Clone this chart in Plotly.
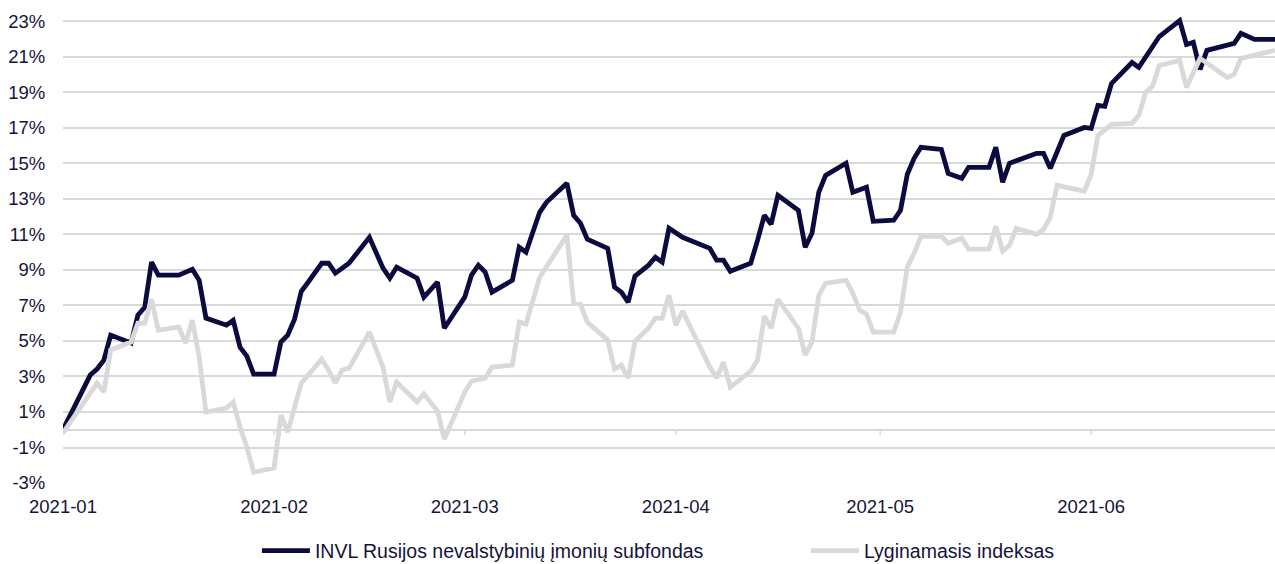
import plotly.graph_objects as go

# ---- data ----
fund_name = "INVL Rusijos nevalstybinių įmonių subfondas"
index_name = "Lyginamasis indeksas"

fund_dates = [
    "2021-01-01", "2021-01-05", "2021-01-06", "2021-01-07", "2021-01-08", "2021-01-11", "2021-01-12",
    "2021-01-13", "2021-01-14", "2021-01-15", "2021-01-18", "2021-01-20", "2021-01-21", "2021-01-22",
    "2021-01-25", "2021-01-26", "2021-01-27", "2021-01-28", "2021-01-29",
    "2021-02-01", "2021-02-02", "2021-02-03", "2021-02-04", "2021-02-05", "2021-02-06", "2021-02-08",
    "2021-02-09", "2021-02-10", "2021-02-12", "2021-02-15", "2021-02-17", "2021-02-18", "2021-02-19",
    "2021-02-22", "2021-02-23", "2021-02-25", "2021-02-26",
    "2021-03-01", "2021-03-02", "2021-03-03", "2021-03-04", "2021-03-05", "2021-03-08", "2021-03-09",
    "2021-03-10", "2021-03-12", "2021-03-13", "2021-03-16", "2021-03-17", "2021-03-18", "2021-03-19",
    "2021-03-22", "2021-03-23", "2021-03-24", "2021-03-25", "2021-03-26", "2021-03-28", "2021-03-29",
    "2021-03-30", "2021-03-31",
    "2021-04-02", "2021-04-03", "2021-04-06", "2021-04-07", "2021-04-08", "2021-04-09", "2021-04-12",
    "2021-04-13", "2021-04-14", "2021-04-15", "2021-04-16", "2021-04-19", "2021-04-20", "2021-04-21",
    "2021-04-22", "2021-04-23", "2021-04-26", "2021-04-27", "2021-04-29", "2021-04-30",
    "2021-05-03", "2021-05-04", "2021-05-05", "2021-05-06", "2021-05-07", "2021-05-10", "2021-05-11",
    "2021-05-13", "2021-05-14", "2021-05-17", "2021-05-18", "2021-05-19", "2021-05-20", "2021-05-24",
    "2021-05-25", "2021-05-26", "2021-05-27", "2021-05-28", "2021-05-31",
    "2021-06-01", "2021-06-02", "2021-06-03", "2021-06-04", "2021-06-07", "2021-06-08", "2021-06-11",
    "2021-06-14", "2021-06-15", "2021-06-16", "2021-06-17", "2021-06-18", "2021-06-22", "2021-06-23",
    "2021-06-25", "2021-06-28",
]
fund_values = [
    0.0, 3.08, 3.42, 3.92, 5.33, 4.88, 6.46, 6.90, 9.44, 8.71,
    8.71, 9.04, 8.42, 6.29, 5.89, 6.17, 4.65, 4.15, 3.13, 3.13,
    4.94, 5.33, 6.23, 7.80, 8.31, 9.38, 9.38, 8.82, 9.38, 10.84,
    9.10, 8.54, 9.16, 8.54, 7.47, 8.31, 5.72, 7.47, 8.71, 9.27,
    8.88, 7.75, 8.42, 10.28, 10.00, 12.25, 12.81, 13.88, 12.08, 11.63,
    10.73, 10.22, 8.03, 7.75, 7.19, 8.65, 9.27, 9.72, 9.44, 11.35,
    10.84, 10.67, 10.22, 9.55, 9.55, 8.93, 9.38, 10.67, 12.08, 11.58,
    13.21, 12.36, 10.28, 11.07, 13.38, 14.33, 15.01, 13.38, 13.66, 11.74,
    11.80, 12.36, 14.39, 15.29, 15.91, 15.79, 14.44, 14.16, 14.78, 14.78,
    15.91, 13.94, 15.01, 15.57, 15.57, 14.73, 15.63, 16.58, 17.03, 16.98,
    18.27, 18.22, 19.51, 20.69, 20.41, 22.15, 23.05, 21.70, 21.82, 20.30,
    21.37, 21.76, 22.33, 21.99, 21.99,
]

index_dates = [
    "2021-01-01", "2021-01-05", "2021-01-06", "2021-01-07", "2021-01-08", "2021-01-11", "2021-01-12",
    "2021-01-13", "2021-01-14", "2021-01-15", "2021-01-18", "2021-01-19", "2021-01-20", "2021-01-21",
    "2021-01-22", "2021-01-25", "2021-01-26", "2021-01-27", "2021-01-28", "2021-01-29",
    "2021-02-01", "2021-02-02", "2021-02-03", "2021-02-05", "2021-02-08", "2021-02-09", "2021-02-10",
    "2021-02-11", "2021-02-12", "2021-02-15", "2021-02-17", "2021-02-18", "2021-02-19", "2021-02-22",
    "2021-02-23", "2021-02-25", "2021-02-26",
    "2021-03-01", "2021-03-02", "2021-03-04", "2021-03-05", "2021-03-08", "2021-03-09", "2021-03-10",
    "2021-03-12", "2021-03-16", "2021-03-17", "2021-03-18", "2021-03-19", "2021-03-22", "2021-03-23",
    "2021-03-24", "2021-03-25", "2021-03-26", "2021-03-28", "2021-03-29", "2021-03-30", "2021-03-31",
    "2021-04-01", "2021-04-02", "2021-04-06", "2021-04-07", "2021-04-08", "2021-04-09", "2021-04-12",
    "2021-04-13", "2021-04-14", "2021-04-15", "2021-04-16", "2021-04-19", "2021-04-20", "2021-04-21",
    "2021-04-22", "2021-04-23", "2021-04-26", "2021-04-27", "2021-04-28", "2021-04-29", "2021-04-30",
    "2021-05-03", "2021-05-04", "2021-05-05", "2021-05-06", "2021-05-07", "2021-05-10", "2021-05-11",
    "2021-05-13", "2021-05-14", "2021-05-17", "2021-05-18", "2021-05-19", "2021-05-20", "2021-05-21",
    "2021-05-24", "2021-05-25", "2021-05-26", "2021-05-27", "2021-05-31",
    "2021-06-01", "2021-06-02", "2021-06-03", "2021-06-04", "2021-06-07", "2021-06-08", "2021-06-09",
    "2021-06-10", "2021-06-11", "2021-06-14", "2021-06-15", "2021-06-17", "2021-06-21", "2021-06-22",
    "2021-06-23", "2021-06-28",
]
index_values = [
    -0.19, 2.12, 2.63, 2.12, 4.49, 4.94, 6.00, 6.00, 7.35, 5.61,
    5.78, 4.88, 6.17, 4.09, 1.00, 1.22, 1.56, 0.15, -0.98, -2.39,
    -2.16, 0.83, -0.13, 2.63, 3.98, 3.36, 2.63, 3.36, 3.47, 5.50,
    3.53, 1.56, 2.68, 1.56, 2.01, 1.05, -0.52, 2.12, 2.74, 2.91,
    3.53, 3.64, 6.06, 5.95, 8.59, 10.95, 7.13, 7.07, 6.06, 5.05,
    3.42, 3.64, 2.91, 4.99, 5.72, 6.29, 6.29, 7.58, 5.89, 6.68,
    3.53, 2.91, 3.81, 2.40, 3.30, 3.92, 6.40, 5.72, 7.35, 5.72,
    4.20, 4.94, 7.58, 8.26, 8.42, 7.69, 6.74, 6.51, 5.50, 5.50,
    6.62, 9.16, 9.94, 10.90, 10.90, 10.51, 10.79, 10.17, 10.17, 11.46,
    10.06, 10.39, 11.35, 11.01, 11.29, 11.97, 13.77, 13.44, 14.39, 16.58,
    16.86, 17.20, 17.26, 17.71, 19.00, 19.34, 20.52, 20.80, 19.28, 20.92,
    19.84, 20.02, 20.92, 21.37,
]

month_ticks = ["2021-01-01", "2021-02-01", "2021-03-01", "2021-04-01", "2021-05-01", "2021-06-01"]
month_labels = ["2021-01", "2021-02", "2021-03", "2021-04", "2021-05", "2021-06"]
y_ticks = [-3, -1, 1, 3, 5, 7, 9, 11, 13, 15, 17, 19, 21, 23]
y_labels = [f"{v}%" for v in y_ticks]

# ---- styles ----
FUND_COLOR = "#0b0b3f"
INDEX_COLOR = "#d9d9d9"
GRID_COLOR = "#d9d9d9"
TEXT_COLOR = "#14143a"
FONT = "Liberation Sans, Arial, sans-serif"
FS = 18.5
FS_LEG = 19.5

fig = go.Figure()
fig.add_trace(go.Scatter(
    x=fund_dates, y=fund_values, mode="lines", name=fund_name,
    line=dict(color=FUND_COLOR, width=4.8), legend="legend",
))
fig.add_trace(go.Scatter(
    x=index_dates, y=index_values, mode="lines", name=index_name,
    line=dict(color=INDEX_COLOR, width=4.8), legend="legend2",
))

# small tick marks on the zero line at each month
for m in month_ticks:
    fig.add_shape(type="line", xref="x", yref="y", x0=m, x1=m, y0=0, y1=-0.3,
                  line=dict(color=GRID_COLOR, width=1.5), layer="below")

legend_common = dict(
    orientation="h", yanchor="middle", y=-0.146, xanchor="left",
    font=dict(family=FONT, size=FS_LEG, color=TEXT_COLOR),
    bgcolor="rgba(0,0,0,0)", itemwidth=48,
)

fig.update_layout(
    width=1275, height=564,
    margin=dict(l=63, r=0, t=16.5, b=81, autoexpand=False),
    paper_bgcolor="white", plot_bgcolor="white",
    font=dict(family=FONT, size=FS, color=TEXT_COLOR),
    showlegend=True,
    legend=dict(x=0.160, **legend_common),
    legend2=dict(x=0.613, **legend_common),
)
fig.update_xaxes(
    type="date", range=["2021-01-01", "2021-06-28"],
    tickvals=month_ticks, ticktext=month_labels,
    showgrid=False, zeroline=False, showline=False, automargin=False,
    ticks="outside", ticklen=7, tickcolor="rgba(0,0,0,0)",
)
fig.update_yaxes(
    range=[-3, 23.25], tickvals=y_ticks, ticktext=y_labels,
    showgrid=True, gridcolor=GRID_COLOR, gridwidth=1.5,
    zeroline=True, zerolinecolor=GRID_COLOR, zerolinewidth=1.5,
    showline=False, automargin=False,
    ticks="outside", ticklen=13, tickcolor="rgba(0,0,0,0)",
)

fig.write_html(
    "out.html",
    config={"displayModeBar": False},
    post_script="document.body.style.margin='0';document.body.style.overflow='hidden';",
)
